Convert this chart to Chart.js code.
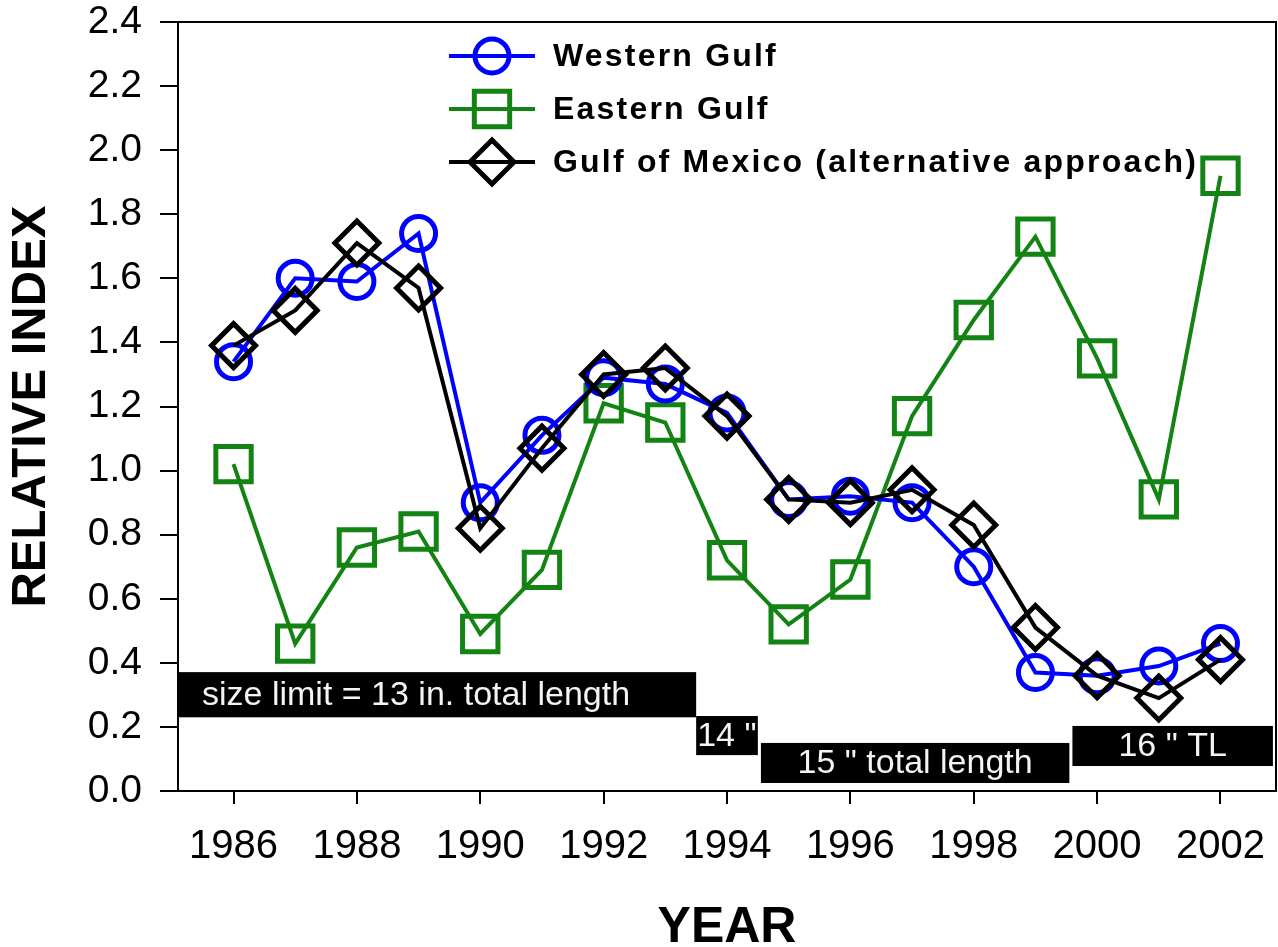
<!DOCTYPE html>
<html>
<head>
<meta charset="utf-8">
<script src="https://cdn.jsdelivr.net/npm/chart.js@4/dist/chart.umd.min.js"></script>
<style>
  html, body { margin: 0; padding: 0; background: #fff; }
</style>
</head>
<body>
<canvas id="indexChart" width="1278" height="947"></canvas>
<script>
const years = [1986, 1987, 1988, 1989, 1990, 1991, 1992, 1993, 1994, 1995, 1996, 1997, 1998, 1999, 2000, 2001, 2002];
const westernGulf = [1.34, 1.60, 1.59, 1.74, 0.90, 1.11, 1.29, 1.27, 1.18, 0.91, 0.92, 0.90, 0.70, 0.37, 0.36, 0.39, 0.46];
const easternGulf = [1.02, 0.46, 0.76, 0.81, 0.49, 0.69, 1.21, 1.15, 0.72, 0.52, 0.66, 1.17, 1.47, 1.73, 1.35, 0.91, 1.92];
const gulfOfMexico = [1.39, 1.50, 1.71, 1.57, 0.82, 1.07, 1.30, 1.32, 1.17, 0.91, 0.90, 0.94, 0.83, 0.51, 0.36, 0.29, 0.41];
const xTickYears = [1986, 1988, 1990, 1992, 1994, 1996, 1998, 2000, 2002];
const yTickValues = [0, 0.2, 0.4, 0.6, 0.8, 1.0, 1.2, 1.4, 1.6, 1.8, 2.0, 2.2, 2.4];

// size limit periods (year span, index span)
const limitLabels = ['size limit = 13 in. total length', '14 "', '15 " total length', '16 " TL'];
const limitStart = [1985.1, 1993.5, 1994.55, 1999.6];
const limitEnd = [1993.5, 1994.5, 1999.55, 2002.85];
const limitLow = [0.23, 0.112, 0.025, 0.078];
const limitHigh = [0.371, 0.234, 0.15, 0.203];

const FONT = "'Liberation Sans', Arial, sans-serif";
Chart.defaults.font.family = FONT;
Chart.defaults.color = '#000';

const BLUE = '#0000ff';
const GREEN = '#138313';

const toPoints = vals => vals.map((v, i) => ({ x: years[i], y: v }));

const limitBoxes = {
  id: 'limitBoxes',
  beforeDatasetsDraw(chart) {
    const { ctx, scales: { x, y } } = chart;
    ctx.save();
    ctx.font = '34px ' + FONT;
    ctx.textBaseline = 'middle';
    limitLabels.forEach((label, i) => {
      const x0 = x.getPixelForValue(limitStart[i]);
      const x1 = x.getPixelForValue(limitEnd[i]);
      const y0 = y.getPixelForValue(limitHigh[i]);
      const y1 = y.getPixelForValue(limitLow[i]);
      ctx.fillStyle = '#000';
      ctx.fillRect(x0, y0, x1 - x0, y1 - y0);
      ctx.fillStyle = '#f4f4f4';
      if (i === 0) {
        ctx.textAlign = 'left';
        ctx.fillText(label, x0 + 24, (y0 + y1) / 2 + 1);
      } else if (i === 1) {
        ctx.textAlign = 'left';
        ctx.fillText(label, x0 + 1, (y0 + y1) / 2 + 1);
      } else {
        ctx.textAlign = 'center';
        ctx.fillText(label, (x0 + x1) / 2, (y0 + y1) / 2 + 1);
      }
    });
    ctx.restore();
  }
};

function drawMarker(ctx, style, r, cx, cy) {
  ctx.beginPath();
  if (style === 'circle') {
    ctx.arc(cx, cy, r, 0, Math.PI * 2);
  } else if (style === 'rect') {
    const s = Math.SQRT1_2 * r;
    ctx.rect(cx - s, cy - s, 2 * s, 2 * s);
  } else {
    ctx.moveTo(cx, cy - r);
    ctx.lineTo(cx + r, cy);
    ctx.lineTo(cx, cy + r);
    ctx.lineTo(cx - r, cy);
    ctx.closePath();
  }
  ctx.stroke();
}

const insideLegend = {
  id: 'insideLegend',
  afterDatasetsDraw(chart) {
    const { ctx, chartArea } = chart;
    const lineX0 = chartArea.left + 271;
    const lineX1 = chartArea.left + 357;
    const textX = chartArea.left + 375;
    ctx.save();
    ctx.font = 'bold 32px ' + FONT;
    ctx.letterSpacing = '2.2px';
    ctx.textAlign = 'left';
    ctx.textBaseline = 'middle';
    chart.data.datasets.forEach((ds, i) => {
      const cy = chartArea.top + 34 + i * 53;
      ctx.strokeStyle = ds.borderColor;
      ctx.lineWidth = ds.borderWidth;
      ctx.beginPath();
      ctx.moveTo(lineX0, cy);
      ctx.lineTo(lineX1, cy);
      ctx.stroke();
      ctx.lineWidth = ds.pointBorderWidth;
      drawMarker(ctx, ds.pointStyle, ds.pointRadius, (lineX0 + lineX1) / 2, cy);
      ctx.fillStyle = '#000';
      ctx.fillText(ds.label, textX, cy + 1);
    });
    ctx.restore();
  }
};

const frame = {
  id: 'frame',
  afterDraw(chart) {
    const { ctx, chartArea: a } = chart;
    ctx.save();
    ctx.strokeStyle = '#000';
    ctx.lineWidth = 2;
    ctx.beginPath();
    ctx.moveTo(a.left, a.top);
    ctx.lineTo(a.right, a.top);
    ctx.lineTo(a.right, a.bottom);
    ctx.stroke();
    ctx.restore();
  }
};

const data = {
  datasets: [
    {
      label: 'Western Gulf',
      data: toPoints(westernGulf),
      borderColor: BLUE,
      borderWidth: 4,
      pointStyle: 'circle',
      pointRadius: 17,
      pointBorderWidth: 5,
      pointBorderColor: BLUE,
      pointBackgroundColor: 'rgba(0,0,0,0)',
      order: 1
    },
    {
      label: 'Eastern Gulf',
      data: toPoints(easternGulf),
      borderColor: GREEN,
      borderWidth: 4,
      pointStyle: 'rect',
      pointRadius: 25,
      pointBorderWidth: 5,
      pointBorderColor: GREEN,
      pointBackgroundColor: 'rgba(0,0,0,0)',
      order: 2
    },
    {
      label: 'Gulf of Mexico (alternative approach)',
      data: toPoints(gulfOfMexico),
      borderColor: '#000',
      borderWidth: 4,
      pointStyle: 'rectRot',
      pointRadius: 22,
      pointBorderWidth: 5,
      pointBorderColor: '#000',
      pointBackgroundColor: 'rgba(0,0,0,0)',
      order: 0
    }
  ]
};

const config = {
  type: 'line',
  data: data,
  options: {
    responsive: false,
    animation: false,
    layout: { autoPadding: false, padding: { left: 0, right: 2, top: 22, bottom: 0 } },
    plugins: {
      legend: { display: false },
      tooltip: { enabled: false }
    },
    elements: { line: { tension: 0 } },
    scales: {
      x: {
        type: 'linear',
        min: 1985.1,
        max: 2002.9,
        afterBuildTicks: s => { s.ticks = xTickYears.map(v => ({ value: v })); },
        afterFit: s => {
          s.height = 156;
          s.paddingLeft = 0;
          s.paddingRight = 0;
        },
        border: { color: '#000', width: 2 },
        grid: { drawOnChartArea: false, drawTicks: true, tickLength: 13, color: '#000', lineWidth: 2 },
        ticks: {
          color: '#000',
          font: { size: 40 },
          padding: 19,
          maxRotation: 0,
          autoSkip: false,
          callback: v => String(v)
        },
        title: {
          display: true,
          text: 'YEAR',
          color: '#000',
          font: { size: 50, weight: 'bold', lineHeight: 0.76 },
          padding: 0
        }
      },
      y: {
        min: 0,
        max: 2.4,
        afterBuildTicks: s => { s.ticks = yTickValues.map(v => ({ value: v })); },
        afterFit: s => {
          s.width = 178;
          s.paddingTop = 0;
          s.paddingBottom = 0;
        },
        border: { color: '#000', width: 2 },
        grid: { drawOnChartArea: false, drawTicks: true, tickLength: 18, color: '#000', lineWidth: 2 },
        ticks: {
          color: '#000',
          font: { size: 39 },
          padding: 18,
          callback: v => Number(v).toFixed(1)
        },
        title: {
          display: true,
          text: 'RELATIVE INDEX',
          color: '#000',
          font: { size: 49, weight: 'bold', lineHeight: 1.3 },
          padding: 0
        }
      }
    }
  },
  plugins: [limitBoxes, insideLegend, frame]
};

new Chart(document.getElementById('indexChart'), config);
</script>
</body>
</html>
